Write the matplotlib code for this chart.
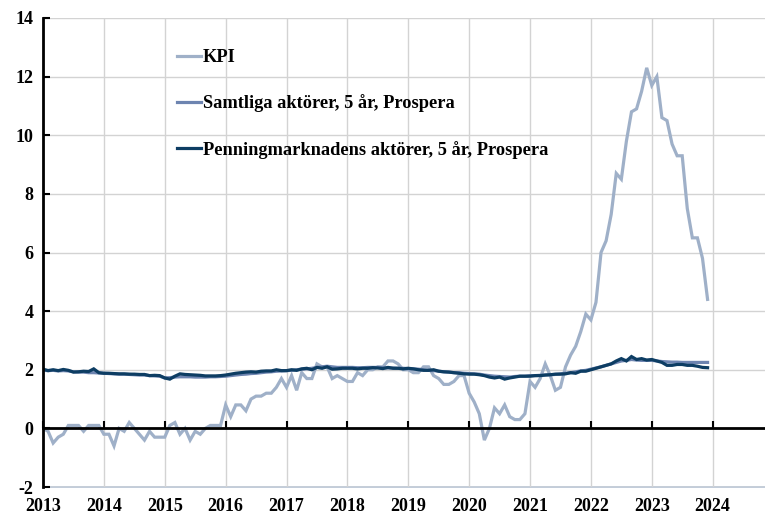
import numpy as np
import matplotlib
matplotlib.use("Agg")
import matplotlib.pyplot as plt

plt.rcParams['font.family'] = ['Liberation Serif', 'DejaVu Serif']
plt.rcParams['font.weight'] = 'bold'
plt.rcParams['axes.unicode_minus'] = False

start_year = 2013
years = list(range(2013, 2025))
y_ticks = list(range(-2, 15, 2))

kpi = [
    0.0, -0.1, -0.5, -0.3, -0.2, 0.1, 0.1, 0.1, -0.1, 0.1, 0.1, 0.1,
    -0.2, -0.2, -0.6, 0.0, -0.1, 0.2, 0.0, -0.2, -0.4, -0.1, -0.3, -0.3,
    -0.3, 0.1, 0.2, -0.2, 0.0, -0.4, -0.1, -0.2, 0.0, 0.1, 0.1, 0.1,
    0.8, 0.4, 0.8, 0.8, 0.6, 1.0, 1.1, 1.1, 1.2, 1.2, 1.4, 1.7,
    1.4, 1.8, 1.3, 1.9, 1.7, 1.7, 2.2, 2.1, 2.1, 1.7, 1.8, 1.7,
    1.6, 1.6, 1.9, 1.8, 2.0, 2.0, 2.1, 2.1, 2.3, 2.3, 2.2, 2.0,
    2.0, 1.9, 1.9, 2.1, 2.1, 1.8, 1.7, 1.5, 1.5, 1.6, 1.8, 1.8,
    1.2, 0.9, 0.5, -0.4, 0.0, 0.7, 0.5, 0.8, 0.4, 0.3, 0.3, 0.5,
    1.6, 1.4, 1.7, 2.2, 1.8, 1.3, 1.4, 2.1, 2.5, 2.8, 3.3, 3.9,
    3.7, 4.3, 6.0, 6.4, 7.3, 8.7, 8.5, 9.8, 10.8, 10.9, 11.5, 12.3,
    11.7, 12.0, 10.6, 10.5, 9.7, 9.3, 9.3, 7.5, 6.5, 6.5, 5.8, 4.4,
]

samtliga = [
    1.98, 1.97, 1.98, 1.96, 1.97, 1.96, 1.93, 1.92, 1.92, 1.90, 1.90, 1.89,
    1.88, 1.87, 1.86, 1.85, 1.85, 1.84, 1.83, 1.82, 1.82, 1.80, 1.79, 1.78,
    1.72, 1.73, 1.75, 1.76, 1.76, 1.76, 1.75, 1.75, 1.75, 1.76, 1.76, 1.77,
    1.78, 1.80, 1.82, 1.84, 1.85, 1.87, 1.88, 1.90, 1.92, 1.93, 1.95, 1.96,
    1.97, 1.98, 2.00, 2.02, 2.03, 2.05, 2.08, 2.10, 2.12, 2.10, 2.08, 2.08,
    2.08, 2.08, 2.07, 2.07, 2.08, 2.08, 2.08, 2.07, 2.06, 2.06, 2.05, 2.05,
    2.04, 2.03, 2.02, 2.00, 1.98, 1.97, 1.95, 1.93, 1.92, 1.90, 1.90, 1.88,
    1.87, 1.86, 1.85, 1.82, 1.80, 1.78, 1.77, 1.76, 1.75, 1.77, 1.78, 1.78,
    1.80, 1.80, 1.81, 1.82, 1.83, 1.84, 1.86, 1.88, 1.90, 1.93, 1.96, 1.98,
    2.02, 2.06, 2.10, 2.15, 2.20, 2.25, 2.30, 2.32, 2.35, 2.33, 2.32, 2.32,
    2.32, 2.30, 2.28, 2.27, 2.26, 2.26, 2.25, 2.25, 2.25, 2.25, 2.25, 2.25,
]

penning = [
    2.02, 1.97, 2.00, 1.97, 2.01, 1.98, 1.92, 1.93, 1.95, 1.94, 2.03, 1.90,
    1.88, 1.88, 1.87, 1.86, 1.86, 1.85, 1.85, 1.84, 1.84, 1.80, 1.81, 1.80,
    1.72, 1.68, 1.78, 1.86, 1.84, 1.83, 1.82, 1.81, 1.79, 1.79, 1.79, 1.80,
    1.82, 1.85, 1.88, 1.90, 1.92, 1.93, 1.92, 1.95, 1.96, 1.96, 2.00, 1.97,
    1.97, 2.00, 1.98, 2.03, 2.05, 2.00, 2.08, 2.05, 2.10, 2.02, 2.03, 2.05,
    2.05, 2.05, 2.03, 2.05, 2.05, 2.07, 2.06, 2.04, 2.08, 2.05, 2.05, 2.03,
    2.05, 2.03, 2.00, 1.98, 1.98, 2.00, 1.95, 1.93, 1.92, 1.90, 1.88, 1.86,
    1.85, 1.85, 1.83, 1.80, 1.75, 1.72, 1.75, 1.68, 1.72, 1.75, 1.78, 1.78,
    1.78, 1.80, 1.80, 1.82, 1.83, 1.85, 1.85, 1.86, 1.90, 1.88, 1.95, 1.95,
    2.00, 2.05, 2.10, 2.15, 2.20, 2.30, 2.38, 2.30, 2.45, 2.35, 2.38, 2.33,
    2.35, 2.30, 2.25, 2.15, 2.15, 2.18, 2.18, 2.15, 2.15, 2.12, 2.08, 2.07,
]

labels = ["KPI", "Samtliga aktörer, 5 år, Prospera",
          "Penningmarknadens aktörer, 5 år, Prospera"]
colors = ["#9fb0c8", "#6d84b0", "#0d3d63"]

x = start_year + np.arange(len(kpi)) / 12.0

fig = plt.figure(figsize=(7.65, 5.14), dpi=100)
ax = fig.add_axes([43 / 765, 27 / 514, 722 / 765, 469 / 514])

ax.set_xlim(2013, 2024.86)
ax.set_ylim(-2, 14)

ax.grid(True, color="#d3d3d3", linewidth=1.0)
ax.set_axisbelow(True)

for series, lab, col in zip([kpi, samtliga, penning], labels, colors):
    ax.plot(x, series, color=col, linewidth=2.3, label=lab,
            solid_joinstyle="miter")

# spines
ax.spines['top'].set_visible(False)
ax.spines['right'].set_visible(False)
ax.spines['left'].set_color('black')
ax.spines['left'].set_linewidth(2.0)
ax.spines['bottom'].set_position(('data', 0))
ax.spines['bottom'].set_color('black')
ax.spines['bottom'].set_linewidth(2.0)
ax.spines['bottom'].set_zorder(5)

ax.set_xticks(years)
ax.tick_params(axis='x', direction='in', length=5, width=1.5,
               labelbottom=False, color='black')
ax.set_yticks(y_ticks)
ax.tick_params(axis='y', direction='in', length=5, width=1.5,
               labelsize=13, pad=7)
for t in ax.get_yticklabels():
    t.set_fontweight('bold')

sec = ax.secondary_xaxis('bottom')
sec.set_xticks(years)
sec.tick_params(axis='x', length=0, labelsize=13, pad=8)
sec.spines['bottom'].set_color('#b8c3d3')
sec.spines['bottom'].set_linewidth(1.2)
for t in sec.get_xticklabels():
    t.set_fontweight('bold')

leg = ax.legend(loc='upper left', bbox_to_anchor=((177 - 43) / 722, 1 - (49 - 18) / 469),
                frameon=False, borderaxespad=0, borderpad=0,
                handlelength=1.3, handletextpad=0.12, labelspacing=1.55,
                prop={'family': 'Liberation Serif', 'weight': 'bold', 'size': 13.2})

fig.savefig("out.png", dpi=100)
